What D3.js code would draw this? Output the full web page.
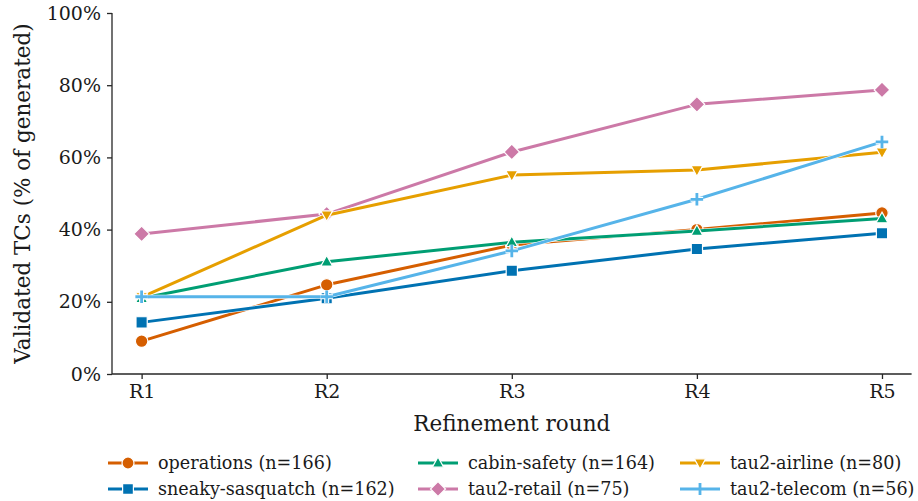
<!DOCTYPE html>
<html><head><meta charset="utf-8">
<script src="https://cdn.jsdelivr.net/npm/d3@7"></script>
<style>body{margin:0;background:#fff}text{font-family:"DejaVu Serif",serif;fill:#1a1a1a}</style>
</head><body><svg id="c" width="918" height="501"></svg>
<script>
const rounds = ["R1","R2","R3","R4","R5"];
const seriesNames = ["operations (n=166)","sneaky-sasquatch (n=162)","cabin-safety (n=164)","tau2-retail (n=75)","tau2-airline (n=80)","tau2-telecom (n=56)"];
const operations = [9.1, 24.7, 35.7, 40.0, 44.6];
const sneaky = [14.3, 21.0, 28.6, 34.6, 39.0];
const cabin = [21.0, 31.1, 36.5, 39.6, 43.1];
const retail = [38.8, 44.3, 61.5, 74.7, 78.7];
const airline = [21.3, 44.0, 55.1, 56.5, 61.4];
const telecom = [21.4, 21.4, 34.1, 48.4, 64.3];
const yTicks = [0, 20, 40, 60, 80, 100];

const colors = ["#D55E00","#0072B2","#009E73","#CC79A7","#E69F00","#56B4E9"];
const shapes = ["circle","square","triUp","diamond","triDown","plus"];
const values = [operations, sneaky, cabin, retail, airline, telecom];

const svg = d3.select("#c");
const x = d3.scaleLinear().domain([-0.16, 4.16]).range([112, 911.6]);
const y = d3.scaleLinear().domain([0, 100]).range([374, 13]);

const xAxis = d3.axisBottom(x).tickValues(d3.range(rounds.length)).tickFormat(i => rounds[i]).tickSize(5).tickPadding(6);
const yAxis = d3.axisLeft(y).tickValues(yTicks).tickFormat(d => d + "%").tickSize(5).tickPadding(6);
const gx = svg.append("g").attr("transform","translate(0,374)").call(xAxis);
const gy = svg.append("g").attr("transform","translate(112,0)").call(yAxis);
[gx, gy].forEach(g => {
  g.selectAll("path.domain").attr("stroke","#262626").attr("stroke-width",1.3);
  g.selectAll(".tick line").attr("stroke","#262626").attr("stroke-width",1.3);
  g.selectAll(".tick text").style("font-family","DejaVu Serif").style("font-size","19px").attr("fill","#1a1a1a");
});
gx.select("path.domain").attr("d","M112,0H911.6");
gy.select("path.domain").attr("d","M0,374V13");

svg.append("text").attr("x", (112+911.6)/2).attr("y", 431).attr("text-anchor","middle").style("font-size","21.5px").text("Refinement round");
svg.append("text").attr("transform","translate(30,193.5) rotate(-90)").attr("text-anchor","middle").style("font-size","21.5px").text("Validated TCs (% of generated)");

function markerPath(shape, s) {
  const r = s/2;
  switch(shape) {
    case "circle": return d3.symbol(d3.symbolCircle, Math.PI*r*r)();
    case "square": { const h=r*0.9; return `M${-h},${-h}H${h}V${h}H${-h}Z`; }
    case "triUp": { const w=r*0.95; return `M0,${-r*1.0}L${w},${r*0.7}L${-w},${r*0.7}Z`; }
    case "triDown": { const w=r*0.95; return `M0,${r*1.0}L${w},${-r*0.7}L${-w},${-r*0.7}Z`; }
    case "diamond": { const h=r*1.25; return `M0,${-h}L${h},0L0,${h}L${-h},0Z`; }
    case "plus": { const h=r; return `M${-h},0H${h}M0,${-h}V${h}`; }
  }
}
function drawMarker(g, shape, color, s, cx, cy) {
  if (shape === "plus") {
    g.append("path").attr("d", markerPath(shape, s)).attr("transform",`translate(${cx},${cy})`)
      .attr("stroke","#fff").attr("stroke-width",5).attr("fill","none");
    g.append("path").attr("d", markerPath(shape, s)).attr("transform",`translate(${cx},${cy})`)
      .attr("stroke",color).attr("stroke-width",2.8).attr("fill","none");
  } else {
    g.append("path").attr("d", markerPath(shape, s)).attr("transform",`translate(${cx},${cy})`)
      .attr("fill",color).attr("stroke","#fff").attr("stroke-width",1.2);
  }
}

const line = d3.line().x((d,i) => x(i)).y(d => y(d));
values.forEach((vals, k) => {
  const g = svg.append("g");
  g.append("path").attr("d", line(vals)).attr("fill","none").attr("stroke","#fff").attr("stroke-width",4.2).attr("stroke-linejoin","round");
  g.append("path").attr("d", line(vals)).attr("fill","none").attr("stroke",colors[k]).attr("stroke-width",3).attr("stroke-linejoin","round");
  vals.forEach((v,i) => drawMarker(g, shapes[k], colors[k], 12.5, x(i), y(v)));
});

const colX = [108, 418, 680];
const rowY = [463, 489];
seriesNames.forEach((name, k) => {
  const c = Math.floor(k/2), r = k%2;
  const g = svg.append("g").attr("transform",`translate(${colX[c]},${rowY[r]})`);
  g.append("line").attr("x1",0).attr("x2",40).attr("y1",0).attr("y2",0).attr("stroke",colors[k]).attr("stroke-width",3);
  drawMarker(g, shapes[k], colors[k], 12, 20, 0);
  g.append("text").attr("x",50).attr("y",0).attr("dy","0.35em").style("font-size","17.6px").text(name);
});
</script></body></html>
